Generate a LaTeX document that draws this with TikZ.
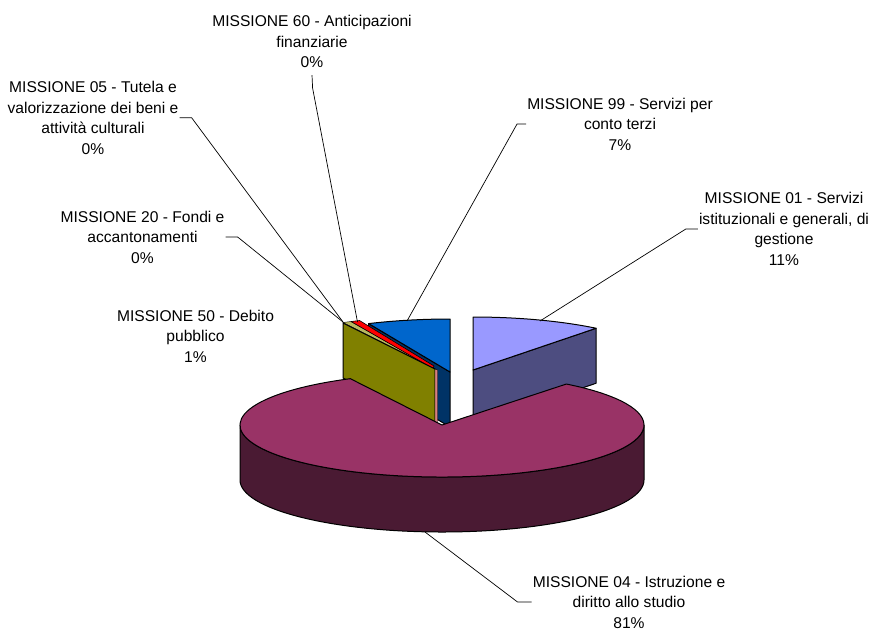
\documentclass[tikz,border=0pt]{standalone}
\usepackage{fontspec}
\setmainfont{Liberation Sans}
\usetikzlibrary{calc}
\definecolor{plumtop}{HTML}{993366}
\definecolor{plumside}{HTML}{4A1A33}
\definecolor{lavtop}{HTML}{9999FF}
\definecolor{lavside}{HTML}{4D4D80}
\definecolor{bluetop}{HTML}{0066CC}
\definecolor{blueside}{HTML}{003366}
\definecolor{olive}{HTML}{808000}
\definecolor{sliverred}{HTML}{FF0000}
\definecolor{sliverpink}{HTML}{D98080}
\definecolor{sliverpale}{HTML}{B8B860}
\begin{document}
\begin{tikzpicture}[x=1pt,y=-1pt,
  lbl/.style={align=center, inner sep=1pt, font=\fontsize{15.6}{20.5}\selectfont},
  leader/.style={draw=black, line width=0.7pt},
  facet/.style={draw=black, line width=1pt, line join=round}]
\useasboundingbox (0,0) rectangle (872,630);

% slice centres (exploded)
\coordinate (L) at (473,370);
\coordinate (B) at (450,372);
\coordinate (M) at (442,425);

% MISSIONE 01 slice
\filldraw[facet, fill=lavside] (L) -- ++(-52:200 and 53) -- ++(0,55) -- ($(L)+(0,55)$) -- cycle;
\filldraw[facet, fill=lavtop] (L) -- ++(-90:200 and 53)
  arc[start angle=-90, end angle=-52, x radius=200, y radius=53] -- cycle;

% MISSIONE 99 slice
\filldraw[facet, fill=blueside] (B) -- ++(-114:200 and 53) -- ++(0,55) -- ($(B)+(0,55)$) -- cycle;
\filldraw[facet, fill=bluetop] (B) -- ++(-90:200 and 53)
  arc[start angle=-90, end angle=-114, x radius=200, y radius=53] -- cycle;

% thin slices
\filldraw[draw=black, line width=0.4pt, fill=sliverpale] (343,322.5) -- (351,321.5) -- (433,368) -- (435,369) -- cycle;
\filldraw[facet, line width=0.6pt, fill=sliverred] (351,321.5) -- (359.5,320.5) -- (434,366) -- (433,368.5) -- cycle;
\filldraw[facet, fill=olive] (343,323) -- (435,369) -- (435,424) -- (343,378) -- cycle;
\filldraw[draw=black, line width=0.4pt, fill=sliverpink] (435,369) -- (437.5,370) -- (437.5,424) -- (435,424) -- cycle;

% MISSIONE 04 slice
\filldraw[facet, fill=plumside] (M) ++(-180:202 and 52)
  arc[start angle=-180, end angle=-360, x radius=202, y radius=52] -- ++(0,55)
  arc[start angle=-360, end angle=-180, x radius=202, y radius=52] -- cycle;
\filldraw[facet, fill=plumtop] (M) -- ++(-117:202 and 52)
  arc[start angle=-117, end angle=-412, x radius=202, y radius=52] -- cycle;

% labels
\node[lbl] (m60) at (312,41.7) {MISSIONE 60 - Anticipazioni\\finanziarie\\0\%};
\node[lbl] (m05) at (93,117.7) {MISSIONE 05 - Tutela e\\valorizzazione dei beni e\\attività culturali\\0\%};
\node[lbl] (m20) at (142.5,237) {MISSIONE 20 - Fondi e\\accantonamenti\\0\%};
\node[lbl] (m50) at (195.5,336) {MISSIONE 50 - Debito\\pubblico\\1\%};
\node[lbl] (m99) at (620,124) {MISSIONE 99 - Servizi per\\conto terzi\\7\%};
\node[lbl] (m01) at (784,229) {MISSIONE 01 - Servizi\\istituzionali e generali, di\\gestione\\11\%};
\node[lbl] (m04) at (629,602) {MISSIONE 04 - Istruzione e\\diritto allo studio\\81\%};

% leader line ends
\coordinate (t0520) at (343,322);
\coordinate (t60) at (357.5,322);
\coordinate (t99) at (407,321);
\coordinate (t01) at (540,321);
\coordinate (t04) at (425,532);

\draw[leader] (m60.south) ++(0,6) -- ++(0.6,13) -- (t60);
\draw[leader] (m05.east) -- ++(12,0) -- (t0520);
\draw[leader] (m20.east) -- ++(12,0) -- (t0520);
\draw[leader] (m99.west) -- ++(-9,0) -- (t99);
\draw[leader] (m01.west) -- ++(-12,0) -- (t01);
\draw[leader] (m04.west) -- ++(-14,0) -- (t04);
\end{tikzpicture}
\end{document}
